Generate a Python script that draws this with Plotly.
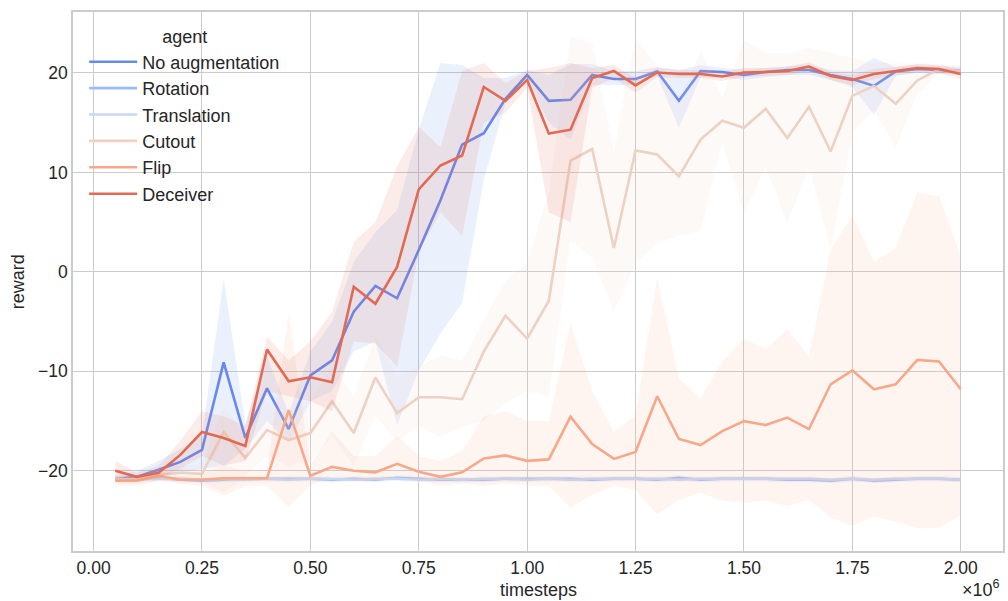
import plotly.graph_objects as go

# Training steps at which each agent was evaluated
timesteps = [
    50_000, 100_000, 150_000, 200_000, 250_000, 300_000, 350_000, 400_000,
    450_000, 500_000, 550_000, 600_000, 650_000, 700_000, 750_000, 800_000,
    850_000, 900_000, 950_000, 1_000_000, 1_050_000, 1_100_000, 1_150_000,
    1_200_000, 1_250_000, 1_300_000, 1_350_000, 1_400_000, 1_450_000,
    1_500_000, 1_550_000, 1_600_000, 1_650_000, 1_700_000, 1_750_000,
    1_800_000, 1_850_000, 1_900_000, 1_950_000, 2_000_000,
]

agents = ["No augmentation", "Rotation", "Translation", "Cutout", "Flip", "Deceiver"]
colors = ["#6788ee", "#9abbff", "#c9d7f0", "#edd1c2", "#f7a889", "#e26952"]

# Mean reward per agent
no_aug_mean = [
    -20.8, -20.6, -19.9, -19.1, -17.9, -9.1, -16.7, -11.7, -15.8, -10.4,
    -8.9, -4.0, -1.4, -2.65, 2.2, 7.2, 12.8, 13.95, 17.4, 19.8,
    17.2, 17.3, 19.8, 19.4, 19.4, 20.15, 17.2, 20.2, 20.1, 19.8,
    20.1, 20.3, 20.3, 19.8, 19.4, 18.7, 20.15, 20.4, 20.3, 20.2,
]
rotation_mean = [
    -20.9, -20.8, -20.7, -20.9, -21.0, -20.9, -20.8, -20.8, -20.8, -20.8,
    -20.9, -20.8, -20.9, -20.7, -20.8, -20.9, -20.9, -20.9, -20.8, -20.8,
    -20.8, -20.8, -20.9, -20.8, -20.8, -20.9, -20.7, -20.9, -20.8, -20.8,
    -20.8, -20.9, -20.9, -21.0, -20.8, -21.0, -20.9, -20.8, -20.8, -20.9,
]
translation_mean = [
    -20.8, -20.9, -20.8, -20.8, -20.9, -20.8, -20.9, -20.8, -20.9, -20.8,
    -20.8, -20.9, -20.8, -20.8, -20.9, -20.8, -20.9, -20.8, -20.8, -20.9,
    -20.8, -20.9, -20.8, -20.8, -20.8, -20.8, -20.9, -20.8, -20.8, -20.8,
    -20.8, -20.8, -20.8, -20.9, -20.8, -20.9, -20.8, -20.8, -20.8, -20.9,
]
cutout_mean = [
    -20.8, -20.9, -20.4, -20.2, -20.3, -16.1, -18.7, -15.9, -16.9, -16.2,
    -13.0, -16.2, -10.6, -14.2, -12.6, -12.6, -12.8, -8.0, -4.4, -6.7,
    -2.9, 11.2, 12.35, 2.4, 12.2, 11.8, 9.6, 13.3, 15.2, 14.5,
    16.4, 13.45, 16.6, 12.1, 17.7, 18.7, 16.9, 19.25, 20.4, 20.2,
]
flip_mean = [
    -21.0, -21.0, -20.5, -20.9, -20.9, -20.75, -20.75, -20.75, -13.9, -20.5,
    -19.6, -20.0, -20.15, -19.3, -20.1, -20.6, -20.15, -18.75, -18.45, -19.0,
    -18.85, -14.55, -17.3, -18.8, -18.1, -12.5, -16.8, -17.4, -16.0, -15.0,
    -15.4, -14.65, -15.8, -11.3, -9.9, -11.8, -11.3, -8.85, -9.0, -11.8,
]
deceiver_mean = [
    -20.0, -20.6, -20.2, -18.4, -16.1, -16.7, -17.5, -7.8, -11.0, -10.6,
    -11.1, -1.5, -3.2, 0.5, 8.3, 10.7, 11.7, 18.6, 17.2, 19.3,
    13.9, 14.3, 19.5, 20.2, 18.75, 20.05, 19.9, 19.9, 19.65, 20.05,
    20.1, 20.2, 20.65, 19.7, 19.3, 19.9, 20.2, 20.5, 20.4, 19.9,
]

# Confidence interval bounds per agent
no_aug_low = [
    -21.1, -21.0, -20.6, -20.3, -19.8, -19.5, -17.8, -15.0, -17.2, -13.0,
    -12.0, -8.0, -7.0, -15.4, -9.9, -6.2, -3.1, 9.3, 17.0, 19.3,
    15.0, 13.3, 18.8, 18.8, 18.8, 19.7, 14.5, 19.6, 19.6, 19.3,
    19.6, 19.8, 19.8, 19.3, 18.6, 15.8, 19.7, 20.0, 19.9, 19.8,
]
no_aug_high = [
    -20.5, -20.0, -19.0, -17.8, -16.5, -0.7, -15.3, -8.5, -14.2, -8.0,
    -5.0, 1.0, 4.0, 6.2, 14.3, 21.0, 20.8, 19.5, 19.5, 20.3,
    19.8, 20.9, 20.9, 20.2, 20.2, 20.6, 20.3, 20.8, 20.5, 20.3,
    20.5, 20.7, 20.8, 20.3, 20.2, 21.5, 20.6, 20.8, 20.7, 20.6,
]
rotation_low = [v - 0.25 for v in rotation_mean]
rotation_high = [v + 0.25 for v in rotation_mean]
translation_low = [v - 0.25 for v in translation_mean]
translation_high = [v + 0.25 for v in translation_mean]
cutout_low = [
    -21.3, -21.3, -21.0, -21.0, -21.0, -22.2, -20.5, -18.5, -19.5, -19.0,
    -16.5, -19.5, -14.5, -17.0, -15.5, -16.6, -15.6, -15.0, -13.2, -12.0,
    -12.5, 3.2, 1.5, -4.0, 0.9, 2.9, 3.6, 4.1, 13.0, 5.9,
    10.6, 4.9, 10.6, 2.2, 14.0, 16.3, 12.5, 18.0, 20.0, 19.8,
]
cutout_high = [
    -20.3, -20.5, -19.8, -19.5, -19.5, -13.5, -16.5, -13.0, -14.5, -13.0,
    -9.5, -12.5, -6.5, -10.5, -9.5, -8.4, -8.9, -4.8, -1.0, 1.0,
    8.0, 23.7, 23.0, 12.0, 23.5, 20.7, 17.0, 22.3, 17.5, 23.3,
    22.0, 22.0, 22.5, 22.0, 21.5, 21.0, 21.0, 21.0, 20.9, 20.7,
]
flip_low = [
    -21.5, -21.5, -21.0, -21.3, -21.5, -22.5, -21.5, -21.5, -23.6, -21.5,
    -20.5, -21.0, -21.0, -20.5, -21.0, -21.5, -21.3, -21.5, -21.3, -21.5,
    -21.5, -23.7, -22.4, -21.5, -21.9, -24.4, -22.9, -22.2, -23.0, -23.2,
    -23.0, -23.5, -22.9, -24.7, -25.5, -24.6, -25.1, -25.8, -25.7, -24.5,
]
flip_high = [
    -20.5, -20.6, -20.0, -20.5, -20.3, -19.5, -20.0, -20.0, -4.1, -19.5,
    -16.0, -18.5, -18.5, -16.5, -18.5, -19.0, -18.0, -14.5, -14.0, -15.0,
    -15.0, -5.2, -12.0, -16.1, -14.4, -0.6, -10.7, -12.7, -9.0, -6.7,
    -7.8, -5.8, -8.5, 2.2, 5.7, 1.0, 2.4, 8.0, 7.6, 1.5,
]
deceiver_low = [
    -21.0, -21.0, -20.8, -19.8, -18.5, -19.5, -19.0, -12.0, -12.5, -13.0,
    -14.0, -7.0, -7.2, -9.5, 2.0, 6.0, 3.6, 15.0, 16.0, 18.5,
    6.0, 5.0, 18.5, 19.5, 18.0, 19.6, 19.5, 19.5, 19.2, 19.6,
    19.7, 19.8, 20.2, 19.3, 18.8, 19.4, 19.8, 20.1, 20.0, 19.4,
]
deceiver_high = [
    -19.0, -20.2, -19.5, -17.0, -14.0, -14.5, -15.5, -6.5, -8.9, -7.0,
    -4.0, 3.0, 5.0, 10.6, 14.6, 12.5, 20.2, 21.0, 19.0, 20.2,
    20.5, 21.0, 20.5, 20.8, 19.5, 20.5, 20.3, 20.3, 20.1, 20.5,
    20.5, 20.6, 21.1, 20.1, 19.8, 20.4, 20.6, 20.9, 20.8, 20.4,
]

means = [no_aug_mean, rotation_mean, translation_mean, cutout_mean, flip_mean, deceiver_mean]
lows = [no_aug_low, rotation_low, translation_low, cutout_low, flip_low, deceiver_low]
highs = [no_aug_high, rotation_high, translation_high, cutout_high, flip_high, deceiver_high]

x_ticks = [0, 250_000, 500_000, 750_000, 1_000_000, 1_250_000, 1_500_000, 1_750_000, 2_000_000]
x_tick_text = ["0.00", "0.25", "0.50", "0.75", "1.00", "1.25", "1.50", "1.75", "2.00"]
y_ticks = [-20, -10, 0, 10, 20]
y_tick_text = ["\u221220", "\u221210", "0", "10", "20"]

TEXT = "#262626"
GRID = "#cccccc"
FONT = "Liberation Sans, Arial, sans-serif"


def rgba(hex_color, alpha):
    h = hex_color.lstrip("#")
    r, g, b = int(h[0:2], 16), int(h[2:4], 16), int(h[4:6], 16)
    return f"rgba({r},{g},{b},{alpha})"


fig = go.Figure()
for name, color, mean, low, high in zip(agents, colors, means, lows, highs):
    # shaded interval
    fig.add_trace(go.Scatter(
        x=timesteps + timesteps[::-1],
        y=high + low[::-1],
        fill="toself",
        fillcolor=rgba(color, 0.13),
        line=dict(width=0),
        mode="lines",
        hoverinfo="skip",
        showlegend=False,
        legendgroup=name,
    ))
    # mean curve
    fig.add_trace(go.Scatter(
        x=timesteps, y=mean, name=name, mode="lines",
        line=dict(color=color, width=2.6),
        legendgroup=name,
    ))

fig.update_layout(
    width=1008, height=601,
    margin=dict(l=73, r=3, t=12, b=50),
    paper_bgcolor="white", plot_bgcolor="white",
    font=dict(family=FONT, size=18, color=TEXT),
    showlegend=True,
    legend=dict(
        x=0.012, y=0.985, xanchor="left", yanchor="top",
        bgcolor="rgba(0,0,0,0)", borderwidth=0,
        font=dict(size=18, color=TEXT),
        title=dict(text="agent", side="top center", font=dict(size=18, color=TEXT)),
        tracegroupgap=0,
        itemwidth=48,
    ),
    xaxis=dict(
        range=[-47_500, 2_097_500],
        tickvals=x_ticks, ticktext=x_tick_text,
        showgrid=True, gridcolor=GRID, gridwidth=1.2,
        zeroline=False,
        showline=True, mirror=True, linecolor=GRID, linewidth=1.5,
        ticks="", tickfont=dict(size=17.5, color=TEXT),
    ),
    yaxis=dict(
        range=[-28.06, 26.13],
        tickvals=y_ticks, ticktext=y_tick_text,
        showgrid=True, gridcolor=GRID, gridwidth=1.2,
        zeroline=False,
        showline=True, mirror=True, linecolor=GRID, linewidth=1.5,
        ticks="", tickfont=dict(size=17.5, color=TEXT),
    ),
    annotations=[
        dict(text="timesteps", xref="paper", yref="paper", x=0.501, y=-0.0724,
             xanchor="center", yanchor="middle", showarrow=False,
             font=dict(size=18, color=TEXT)),
        dict(text="reward", xref="paper", yref="paper", x=-0.059, y=0.499,
             xanchor="center", yanchor="middle", textangle=-90, showarrow=False,
             font=dict(size=18, color=TEXT)),
        dict(text="\u00d710<sup>6</sup>", xref="paper", yref="paper", x=0.999, y=-0.069,
             xanchor="right", yanchor="middle", showarrow=False,
             font=dict(size=18, color=TEXT)),
    ],
)

fig.write_html("out.html")
